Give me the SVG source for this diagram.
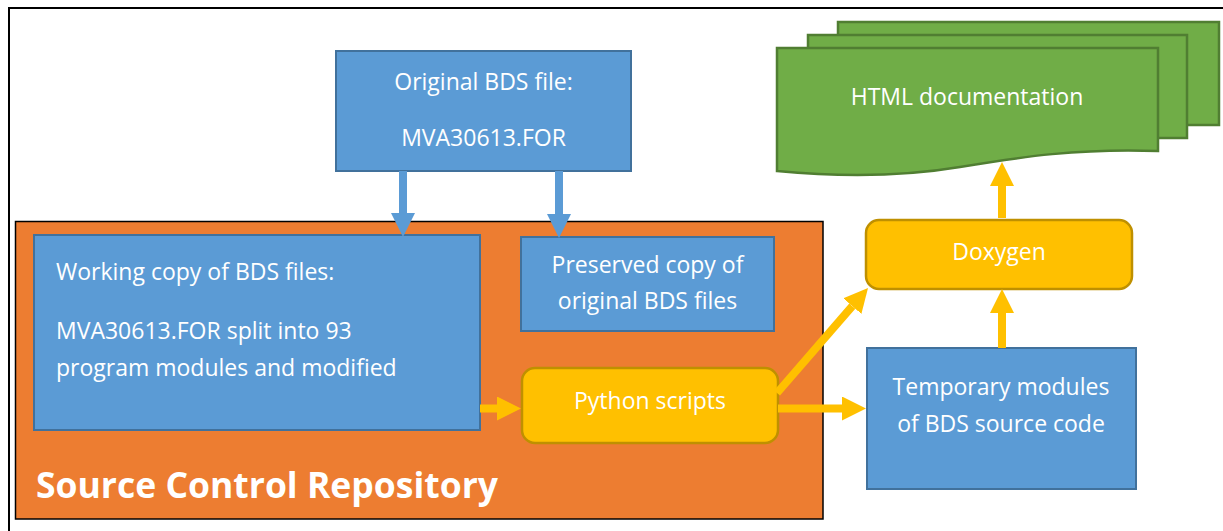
<svg xmlns="http://www.w3.org/2000/svg" width="1223" height="531" viewBox="0 0 1223 531">
<style>
.t{font-family:"Open Sans","Liberation Sans",sans-serif;font-size:23px;fill:#ffffff}
.c{text-anchor:middle}
.blue{fill:#5B9BD5;stroke:#41719C;stroke-width:2}
.yel{fill:#FFC000;stroke:#BF9000;stroke-width:2.5}
.grn{fill:#70AD47;stroke:#507E32;stroke-width:2.5}
.ya{stroke:#FFC000;stroke-width:8;fill:none;marker-end:url(#ha)}
.ba{stroke:#5B9BD5;stroke-width:8;fill:none;marker-end:url(#hb)}
</style>
<defs>
<marker id="ha" viewBox="0 0 3 3" markerWidth="3" markerHeight="3" refX="0" refY="1.5" orient="auto"><path d="M0,0 L3,1.5 L0,3 Z" fill="#FFC000"/></marker>
<marker id="hb" viewBox="0 0 3 3" markerWidth="3" markerHeight="3" refX="0" refY="1.5" orient="auto"><path d="M0,0 L3,1.5 L0,3 Z" fill="#5B9BD5"/></marker>
</defs>
<rect x="0" y="0" width="1223" height="531" fill="#ffffff"/>
<rect x="9" y="8" width="1240" height="560" fill="none" stroke="#000000" stroke-width="2"/>
<g id="repository">
<rect x="15.5" y="221.5" width="807.5" height="297.5" fill="#ED7D31" stroke="#000000" stroke-width="1.5"/>
<text x="36" y="498" style="font-family:'Open Sans','Liberation Sans',sans-serif;font-size:35.5px;font-weight:bold;fill:#ffffff">Source Control Repository</text>
</g>
<g id="original">
<rect class="blue" x="336" y="51" width="295" height="120"/>
<text class="t c" x="483.5" y="90">Original BDS file:</text>
<text class="t c" x="483.5" y="146">MVA30613.FOR</text>
</g>
<g id="working">
<rect class="blue" x="34" y="235" width="446" height="195"/>
<text class="t" x="56" y="280">Working copy of BDS files:</text>
<text class="t" x="56" y="339">MVA30613.FOR split into 93</text>
<text class="t" x="56" y="376">program modules and modified</text>
</g>
<g id="preserved">
<rect class="blue" x="521" y="237" width="253" height="94"/>
<text class="t c" x="647.5" y="273">Preserved copy of</text>
<text class="t c" x="647.5" y="309">original BDS files</text>
</g>
<g id="python">
<rect class="yel" x="522" y="368" width="256" height="75" rx="13"/>
<text class="t c" x="650" y="409">Python scripts</text>
</g>
<g id="temporary">
<rect class="blue" x="867" y="348" width="269" height="141"/>
<text class="t c" x="1001" y="395">Temporary modules</text>
<text class="t c" x="1001" y="432">of BDS source code</text>
</g>
<g id="doxygen">
<rect class="yel" x="866" y="220" width="266" height="69" rx="13"/>
<text class="t c" x="999" y="260">Doxygen</text>
</g>
<g id="html">
<rect class="grn" x="838" y="22" width="381" height="103"/>
<rect class="grn" x="808" y="35" width="379" height="103"/>
<path class="grn" d="M777,48 H1158 V151 C1080,148 1020,157 960,167 C900,177 840,177 777,171 Z"/>
<text class="t c" x="967" y="105">HTML documentation</text>
</g>
<g id="connectors">
<line class="ba" x1="403" y1="171" x2="403" y2="213"/>
<line class="ba" x1="559" y1="171" x2="559" y2="214"/>
<line class="ya" x1="480" y1="408.5" x2="497" y2="408.5"/>
<line class="ya" x1="778" y1="408.5" x2="842" y2="408.5"/>
<line class="ya" x1="777" y1="393" x2="852.3" y2="306.1"/>
<line class="ya" x1="1002" y1="348" x2="1002" y2="313"/>
<line class="ya" x1="1002" y1="218" x2="1002" y2="186"/>
</g>
</svg>
